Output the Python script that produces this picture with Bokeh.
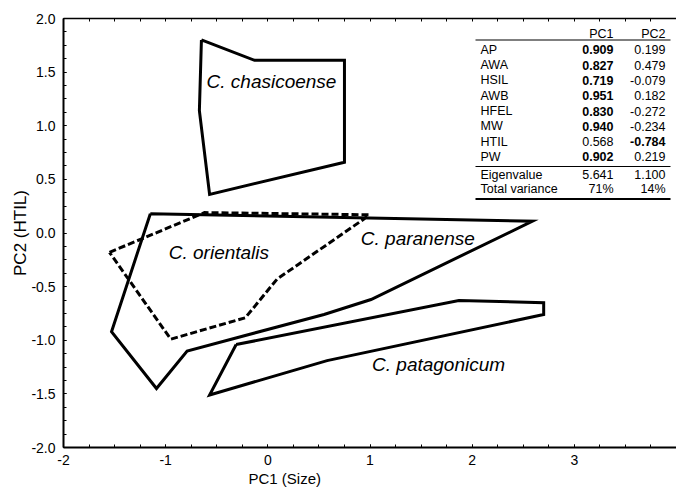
import numpy as np
from bokeh.plotting import figure
from bokeh.models import (Range1d, LinearAxis, Title, SingleIntervalTicker,
                          FixedTicker, NumeralTickFormatter)
from bokeh.core.properties import value
from bokeh.embed import file_html
from bokeh.resources import INLINE

# ---------------- data ----------------
species = ["C. chasicoense", "C. orientalis", "C. paranense", "C. patagonicum"]

chasicoense_x = [-0.65, -0.13, 0.75, 0.75, -0.57, -0.67]
chasicoense_y = [1.80, 1.61, 1.61, 0.66, 0.36, 1.14]

orientalis_x = [-1.55, -0.62, 0.99, 0.94, 0.09, -0.22, -0.95]
orientalis_y = [-0.18, 0.19, 0.17, 0.13, -0.43, -0.79, -0.99]

paranense_x = [-1.15, 2.59, 1.01, 0.55, -0.79, -1.09, -1.53]
paranense_y = [0.18, 0.11, -0.62, -0.76, -1.10, -1.45, -0.92]

patagonicum_x = [-0.31, 1.87, 2.70, 2.70, 0.58, -0.57]
patagonicum_y = [-1.04, -0.63, -0.65, -0.76, -1.19, -1.51]

variables = ["AP", "AWA", "HSIL", "AWB", "HFEL", "MW", "HTIL", "PW"]
pc1_loadings = [0.909, 0.827, 0.719, 0.951, 0.830, 0.940, 0.568, 0.902]
pc2_loadings = [0.199, 0.479, -0.079, 0.182, -0.272, -0.234, -0.784, 0.219]
summary_rows = ["Eigenvalue", "Total variance"]
pc1_summary = ["5.641", "71%"]
pc2_summary = ["1.100", "14%"]
table_headers = ["PC1", "PC2"]

x_tick_values = [-2, -1, 0, 1, 2, 3]
x_label = "PC1 (Size)"
y_label = "PC2 (HTIL)"

# ---------------- figure ----------------
W, H = 676, 489
BL, BR, BT, BB = 63, 0, 18, 42
SX = (W - BL - BR) / 6.0     # px per x unit (x range -2..4)
SY = (H - BT - BB) / 4.0     # px per y unit (y range -2..2)

p = figure(width=W, height=H,
           x_range=Range1d(-2, 4), y_range=Range1d(-2, 2),
           output_backend="svg", toolbar_location=None,
           min_border_left=BL, min_border_right=BR,
           min_border_top=BT, min_border_bottom=BB)
p.grid.visible = False
p.outline_line_color = None
p.background_fill_color = "white"
p.border_fill_color = "white"

FONT = "Liberation Sans"
x_minor = list(np.arange(-2, 4.01, 0.25))

def style_axis(ax):
    ax.axis_line_width = 2
    ax.axis_line_color = "black"
    ax.major_tick_in = 3
    ax.major_tick_out = 0
    ax.minor_tick_in = 3
    ax.minor_tick_out = 0
    ax.major_tick_line_color = "black"
    ax.minor_tick_line_color = "black"
    ax.major_label_text_font = FONT
    ax.major_label_text_font_size = "14px"
    ax.major_label_text_color = "black"
    ax.axis_label_text_font = FONT
    ax.axis_label_text_font_style = "normal"
    ax.axis_label_text_color = "black"

xa = p.xaxis[0]
style_axis(xa)
xa.ticker = FixedTicker(ticks=x_tick_values, minor_ticks=x_minor)
xa.formatter = NumeralTickFormatter(format="0")
xa.major_label_standoff = 7

ya = p.yaxis[0]
style_axis(ya)
ya.ticker = SingleIntervalTicker(interval=0.5, num_minor_ticks=4)
ya.formatter = NumeralTickFormatter(format="0.0")
ya.major_label_standoff = 8
ya.axis_label = y_label
ya.axis_label_text_font_size = "17px"
ya.axis_label_standoff = -2

# top frame: tick marks only (no labels)
top = LinearAxis(ticker=FixedTicker(ticks=[], minor_ticks=x_minor))
style_axis(top)
top.axis_line_width = 1.5
top.major_label_standoff = 0
p.add_layout(top, "above")

# x-axis title, placed off-centre as in the original
xt = Title(text=x_label, align="left", offset=185, standoff=0,
           text_font=FONT, text_font_size="15px", text_font_style="normal",
           text_color="black")
p.add_layout(xt, "below")

# ---------------- polygons ----------------
def closed(xs, ys):
    return list(xs) + [xs[0]], list(ys) + [ys[0]]

for xs, ys, dash in [(chasicoense_x, chasicoense_y, "solid"),
                     (paranense_x, paranense_y, "solid"),
                     (patagonicum_x, patagonicum_y, "solid"),
                     (orientalis_x, orientalis_y, "7 3")]:
    cx, cy = closed(xs, ys)
    p.line(cx, cy, line_color="black", line_width=3, line_dash=dash,
           line_join="miter")

# species labels (anchor positions = layout)
label_pos = {"C. chasicoense": (-0.60, 1.41),
             "C. orientalis": (-0.97, -0.18),
             "C. paranense": (0.91, -0.05),
             "C. patagonicum": (1.02, -1.23)}
p.text(x=[label_pos[s][0] for s in species], y=[label_pos[s][1] for s in species],
       text=species, text_font=value(FONT), text_font_size=value("19px"),
       text_font_style="italic", text_align="left", text_baseline="middle",
       text_color="black")

# ---------------- loadings table (layout in canvas px) ----------------
def dx(px):
    return -2 + (px - BL) / SX

def dy(py):
    return 2 - (py - BT) / SY

col_label_px, col1_px, col2_px = 480, 613, 665
header_py = 33
row0_py, row_step = 49.3, 15.3
summary_py = [174, 188.5]
tfs = value("12.5px")

p.text(x=[dx(col1_px), dx(col2_px)], y=[dy(header_py)] * 2, text=table_headers,
       text_font=value(FONT), text_font_size=tfs, text_align="right",
       text_baseline="middle", text_color="black")

row_y = [dy(row0_py + i * row_step) for i in range(len(variables))]
p.text(x=[dx(col_label_px)] * len(variables), y=row_y, text=variables,
       text_font=value(FONT), text_font_size=tfs, text_align="left",
       text_baseline="middle", text_color="black")

for col_px, vals in [(col1_px, pc1_loadings), (col2_px, pc2_loadings)]:
    for yy, v in zip(row_y, vals):
        p.text(x=[dx(col_px)], y=[yy], text=[f"{v:.3f}"],
               text_font=value(FONT), text_font_size=tfs, text_align="right",
               text_baseline="middle", text_color="black",
               text_font_style="bold" if abs(v) > 0.7 else "normal")

sum_y = [dy(v) for v in summary_py]
p.text(x=[dx(col_label_px)] * 2, y=sum_y, text=summary_rows, text_font=value(FONT),
       text_font_size=tfs, text_align="left", text_baseline="middle", text_color="black")
p.text(x=[dx(col1_px)] * 2, y=sum_y, text=pc1_summary, text_font=value(FONT),
       text_font_size=tfs, text_align="right", text_baseline="middle", text_color="black")
p.text(x=[dx(col2_px)] * 2, y=sum_y, text=pc2_summary, text_font=value(FONT),
       text_font_size=tfs, text_align="right", text_baseline="middle", text_color="black")

for py, lw in [(39.5, 1.2), (166, 1.2), (198.5, 1.8)]:
    p.line([dx(475), dx(670)], [dy(py), dy(py)], line_color="black", line_width=lw)

open("out.html", "w").write(file_html(p, INLINE))
